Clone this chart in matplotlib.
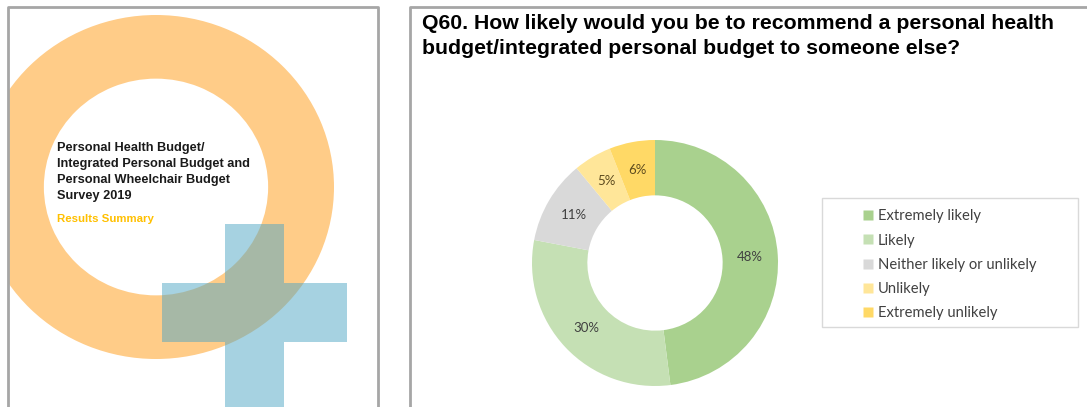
import numpy as np
import matplotlib.pyplot as plt
from matplotlib.patches import Wedge, Rectangle, Polygon
from matplotlib.lines import Line2D
from matplotlib.transforms import Affine2D

# chart data
categories = ['Extremely likely', 'Likely', 'Neither likely or unlikely',
              'Unlikely', 'Extremely unlikely']
values = [48, 30, 11, 5, 6]
colours = ['#A9D18E', '#C5E0B4', '#D9D9D9', '#FFE699', '#FFD966']
label_colours = ['#404040', '#404040', '#404040', '#5C4A1E', '#5C4A1E']

title = ('Q60. How likely would you be to recommend a personal health\n'
         'budget/integrated personal budget to someone else?')
cover_lines = ['Personal Health Budget/', 'Integrated Personal Budget and',
               'Personal Wheelchair Budget', 'Survey 2019']
cover_sub = 'Results Summary'

W, H = 1087, 407
fig = plt.figure(figsize=(W/100, H/100), dpi=100)

# background axes in pixel units (y down)
bg = fig.add_axes([0, 0, 1, 1])
bg.set_xlim(0, W)
bg.set_ylim(H, 0)
bg.axis('off')

# left cover panel, clipped to its frame
clip = Rectangle((8, 7), 370, 420, transform=bg.transData)
ring = Wedge((0, 0), 1, 0, 360, width=0.37, facecolor='#FFCC88',
             edgecolor='none',
             transform=Affine2D().scale(178, 172).translate(156, 187) + bg.transData)
bg.add_patch(ring)
ring.set_clip_path(clip)
plus = Polygon([(225, 224), (284, 224), (284, 283), (347, 283), (347, 342),
                (284, 342), (284, 420), (225, 420), (225, 342), (162, 342),
                (162, 283), (225, 283)],
               closed=True, facecolor='#4FA6C4', alpha=0.5, edgecolor='none')
bg.add_patch(plus)
plus.set_clip_path(clip)

for i, s in enumerate(cover_lines):
    bg.text(57, 148 + 16*i, s, fontsize=9.2, fontweight='bold',
            family='Liberation Sans', color='#1a1a1a', va='center', ha='left')
bg.text(57, 219, cover_sub, fontsize=8.2, fontweight='bold',
        family='Liberation Sans', color='#FFC000', va='center', ha='left')

# frames
fc = '#A6A6A6'
bg.plot([8, 8, 378, 378], [H + 5, 7, 7, H + 5], color=fc, lw=2)
bg.plot([410, 410, W + 5], [H + 5, 7, 7], color=fc, lw=2)

bg.text(422, 36, title, fontsize=15.3, fontweight='bold', family='Liberation Sans',
        color='black', va='center', ha='left', linespacing=1.45)

# donut chart
cx, cy, R = 655, 263, 123
ax = fig.add_axes([(cx - R)/W, (H - cy - R)/H, 2*R/W, 2*R/H])
wedges, texts, autotexts = ax.pie(values, colors=colours, startangle=90,
                                  counterclock=False, radius=1,
                                  wedgeprops=dict(width=0.45, edgecolor='none'),
                                  autopct='%.0f%%', pctdistance=0.77,
                                  textprops=dict(family='Lato', fontsize=9.5))
for t, c in zip(autotexts, label_colours):
    t.set_color(c)
ax.set_xlim(-1, 1)
ax.set_ylim(-1, 1)
ax.set_aspect('equal')

# legend box
bg.add_patch(Rectangle((822, 198), 256, 129, facecolor='white',
                       edgecolor='#D9D9D9', lw=1))
handles = [Line2D([], [], marker='s', ls='none', markersize=7,
                  markerfacecolor=c, markeredgecolor='none') for c in colours]
fig.legend(handles, categories, loc='upper left',
           bbox_to_anchor=(849/W, 1 - 196/H), frameon=False,
           prop=dict(family='Lato', size=10.6), handlelength=0.8,
           handletextpad=0.25, labelspacing=0.7, labelcolor='#404040')

fig.savefig('out.png', dpi=100)
